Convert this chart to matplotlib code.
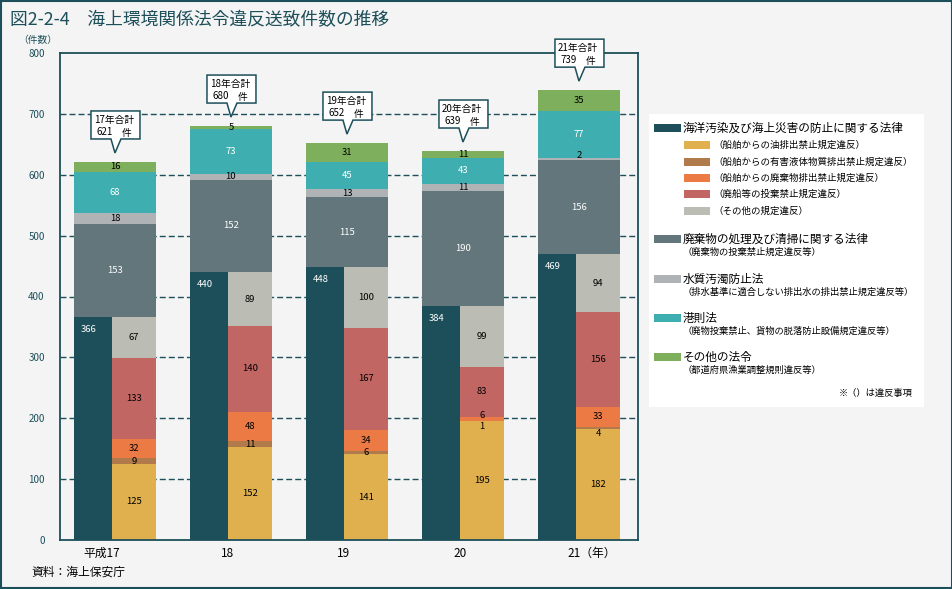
import matplotlib
matplotlib.use("Agg")
import matplotlib.pyplot as plt
from matplotlib.patches import Rectangle, Polygon
from matplotlib.transforms import Affine2D, ScaledTranslation

plt.rcParams['font.family'] = ['Noto Sans CJK JP', 'DejaVu Sans']

# ---------------- data ----------------
years = ['平成17', '18', '19', '20', '21（年）']
totals_label = ['17年合計', '18年合計', '19年合計', '20年合計', '21年合計']
marine_total = [366, 440, 448, 384, 469]   # 海洋汚染及び海上災害の防止に関する法律
oil = [125, 152, 141, 195, 182]             # 油排出
hazardous = [9, 11, 6, 1, 4]                # 有害液体物質
waste_disch = [32, 48, 34, 6, 33]           # 廃棄物排出
abandoned = [133, 140, 167, 83, 156]        # 廃船等の投棄
marine_other = [67, 89, 100, 99, 94]        # その他の規定違反
waste_law = [153, 152, 115, 190, 156]       # 廃棄物の処理及び清掃に関する法律
water = [18, 10, 13, 11, 2]                 # 水質汚濁防止法
port = [68, 73, 45, 43, 77]                 # 港則法
other_law = [16, 5, 31, 11, 35]             # その他の法令
yticks = [0, 100, 200, 300, 400, 500, 600, 700, 800]

# ---------------- style ----------------
BG = '#f4f4f4'
DARK = '#1c4f5a'
C_MARINE = '#1c4f5a'
C_OIL = '#e0b04e'
C_HAZ = '#b07a4a'
C_WDIS = '#ec7a45'
C_ABAN = '#c26664'
C_MOTH = '#bbbcb3'
C_WASTE = '#63767c'
C_WATER = '#afb3b6'
C_PORT = '#3eaeb0'
C_OTHER = '#7daf5c'

W, H = 953, 589
fig = plt.figure(figsize=(W / 100, H / 100), dpi=100, facecolor=BG)


def fx(px):
    return px / W


def fy(py):
    return 1 - py / H


ax = fig.add_axes([fx(60), fy(540), (638 - 60) / W, (540 - 53) / H])
ax.set_facecolor(BG)
ax.set_xlim(-0.474, 4.509)
ax.set_ylim(0, 800)
ax.set_yticks(yticks)
ax.set_yticklabels([str(v) for v in yticks], fontsize=7, color=DARK)
ax.tick_params(axis='y', length=0, pad=11)
ax.set_xticks([])
for s in ax.spines.values():
    s.set_color(DARK)
    s.set_linewidth(1.3)
for v in yticks[1:-1]:
    ax.axhline(v, color=DARK, lw=1.0, ls=(0, (4.3, 2.2)), zorder=0.5)

full_w = 82 / 116
left_w = 38 / 116
right_w = 44 / 116
n = len(years)


def px_off(x, y, dx, dy):
    # transform for pixel offsets relative to a data point
    return Affine2D().translate(dx, dy).scale(1 / 100) + fig.dpi_scale_trans + \
        ScaledTranslation(x, y, ax.transData)


nudges = {(3, 'haz'): -6, (3, 'wdis'): 3, (4, 'haz'): -6, (4, 'water'): 3}

for i in range(n):
    x0 = i - full_w / 2
    # left dark column
    ax.bar(x0, marine_total[i], width=left_w, bottom=0, align='edge',
           color=C_MARINE, zorder=2)
    ax.annotate(str(marine_total[i]), xy=(x0 + left_w / 2 - 0.04, marine_total[i]),
                xytext=(0, -8.6), textcoords='offset points', fontsize=6.8,
                color='white', ha='center', va='center', zorder=5)
    # right breakdown
    xr = x0 + left_w
    bottom = 0
    for key, vals, col, tc in [('oil', oil, C_OIL, 'black'),
                               ('haz', hazardous, C_HAZ, 'black'),
                               ('wdis', waste_disch, C_WDIS, 'black'),
                               ('aban', abandoned, C_ABAN, 'black'),
                               ('moth', marine_other, C_MOTH, 'black')]:
        v = vals[i]
        ax.bar(xr, v, width=right_w, bottom=bottom, align='edge', color=col, zorder=2)
        dy = nudges.get((i, key), 0)
        ax.annotate(str(v), xy=(xr + right_w / 2, bottom + v / 2),
                    xytext=(0, dy * 0.72), textcoords='offset points', fontsize=6.8,
                    color=tc, ha='center', va='center', zorder=5)
        bottom += v
    # upper full-width stacks
    bottom = marine_total[i]
    for key, vals, col, tc in [('waste', waste_law, C_WASTE, 'white'),
                               ('water', water, C_WATER, 'black'),
                               ('port', port, C_PORT, 'white'),
                               ('other', other_law, C_OTHER, 'black')]:
        v = vals[i]
        ax.bar(x0, v, width=full_w, bottom=bottom, align='edge', color=col, zorder=2)
        dy = nudges.get((i, key), 0)
        ax.annotate(str(v), xy=(i, bottom + v / 2),
                    xytext=(0, dy * 0.72), textcoords='offset points', fontsize=6.8,
                    color=tc, ha='center', va='center', zorder=5)
        bottom += v
    total = bottom
    # callout box
    tr = px_off(i, total, 0, 9)
    pts = [(0, 0), (6, 14), (25, 14), (25, 42), (-24, 42), (-24, 14), (-4, 14)]
    poly = Polygon(pts, closed=True, transform=tr, facecolor='white',
                   edgecolor=DARK, lw=1.1, zorder=6, clip_on=False)
    ax.add_patch(poly)
    ax.text(-21, 33, totals_label[i], transform=tr, fontsize=7, ha='left',
            va='center', zorder=7, color='black')
    ax.text(-18, 21, str(total), transform=tr, fontsize=7, ha='left',
            va='center', zorder=7, color='black')
    ax.text(12, 20, '件', transform=tr, fontsize=7, ha='center',
            va='center', zorder=7, color='black')

# x labels
xl_off = [(5, 'right'), (-3, 'center'), (-3, 'center'), (-3, 'center'), (-11, 'left')]
for i, lab in enumerate(years):
    dx, ha = xl_off[i]
    ax.annotate(lab, xy=(i + dx / 116, 0), xytext=(0, -5), textcoords='offset points',
                fontsize=8.5, ha=ha, va='top', color='black', annotation_clip=False)

# title & misc text
fig.text(fx(10), fy(20), '図2-2-4　海上環境関係法令違反送致件数の推移', fontsize=12.8,
         color=DARK, ha='left', va='center')
fig.text(fx(38), fy(40), '（件数）', fontsize=7, color=DARK, ha='center', va='center')
fig.text(fx(31), fy(572), '資料：海上保安庁', fontsize=8.5, color='black', ha='left', va='center')

# legend
fig.patches.append(Rectangle((fx(649), fy(407)), (924 - 649) / W, (407 - 114) / H,
                             transform=fig.transFigure, facecolor='white',
                             edgecolor='none', zorder=1))


def lpatch(x0, x1, yc, col):
    fig.patches.append(Rectangle((fx(x0), fy(yc + 4)), (x1 - x0) / W, 8 / H,
                                 transform=fig.transFigure, facecolor=col,
                                 edgecolor='none', zorder=2))


main_items = [
    (128, C_MARINE, '海洋汚染及び海上災害の防止に関する法律', None),
    (239, C_WASTE, '廃棄物の処理及び清掃に関する法律', '（廃棄物の投棄禁止規定違反等）'),
    (279, C_WATER, '水質汚濁防止法', '（排水基準に適合しない排出水の排出禁止規定違反等）'),
    (318, C_PORT, '港則法', '（廃物投棄禁止、貨物の脱落防止設備規定違反等）'),
    (357, C_OTHER, 'その他の法令', '（都道府県漁業調整規則違反等）'),
]
for yc, col, lab, sub in main_items:
    lpatch(654, 681, yc, col)
    fig.text(fx(683), fy(yc), lab, fontsize=8.4, ha='left', va='center', color='black', zorder=3)
    if sub:
        fig.text(fx(683), fy(yc + 13), sub, fontsize=6.7, ha='left', va='center',
                 color='black', zorder=3)

sub_items = [
    (145, C_OIL, '（船舶からの油排出禁止規定違反）'),
    (162, C_HAZ, '（船舶からの有害液体物質排出禁止規定違反）'),
    (178, C_WDIS, '（船舶からの廃棄物排出禁止規定違反）'),
    (194, C_ABAN, '（廃船等の投棄禁止規定違反）'),
    (211, C_MOTH, '（その他の規定違反）'),
]
for yc, col, lab in sub_items:
    lpatch(684, 710, yc, col)
    fig.text(fx(713), fy(yc), lab, fontsize=6.8, ha='left', va='center', color='black', zorder=3)

fig.text(fx(913), fy(393), '※（）は違反事項', fontsize=6.7, ha='right', va='center',
         color='black', zorder=3)

# figure border
fig.patches.append(Rectangle((0.0008, 0.0012), 0.9984, 0.9976, transform=fig.transFigure,
                             facecolor='none', edgecolor=DARK, lw=1.5, zorder=10))

fig.savefig('out.png', dpi=100, facecolor=BG)
